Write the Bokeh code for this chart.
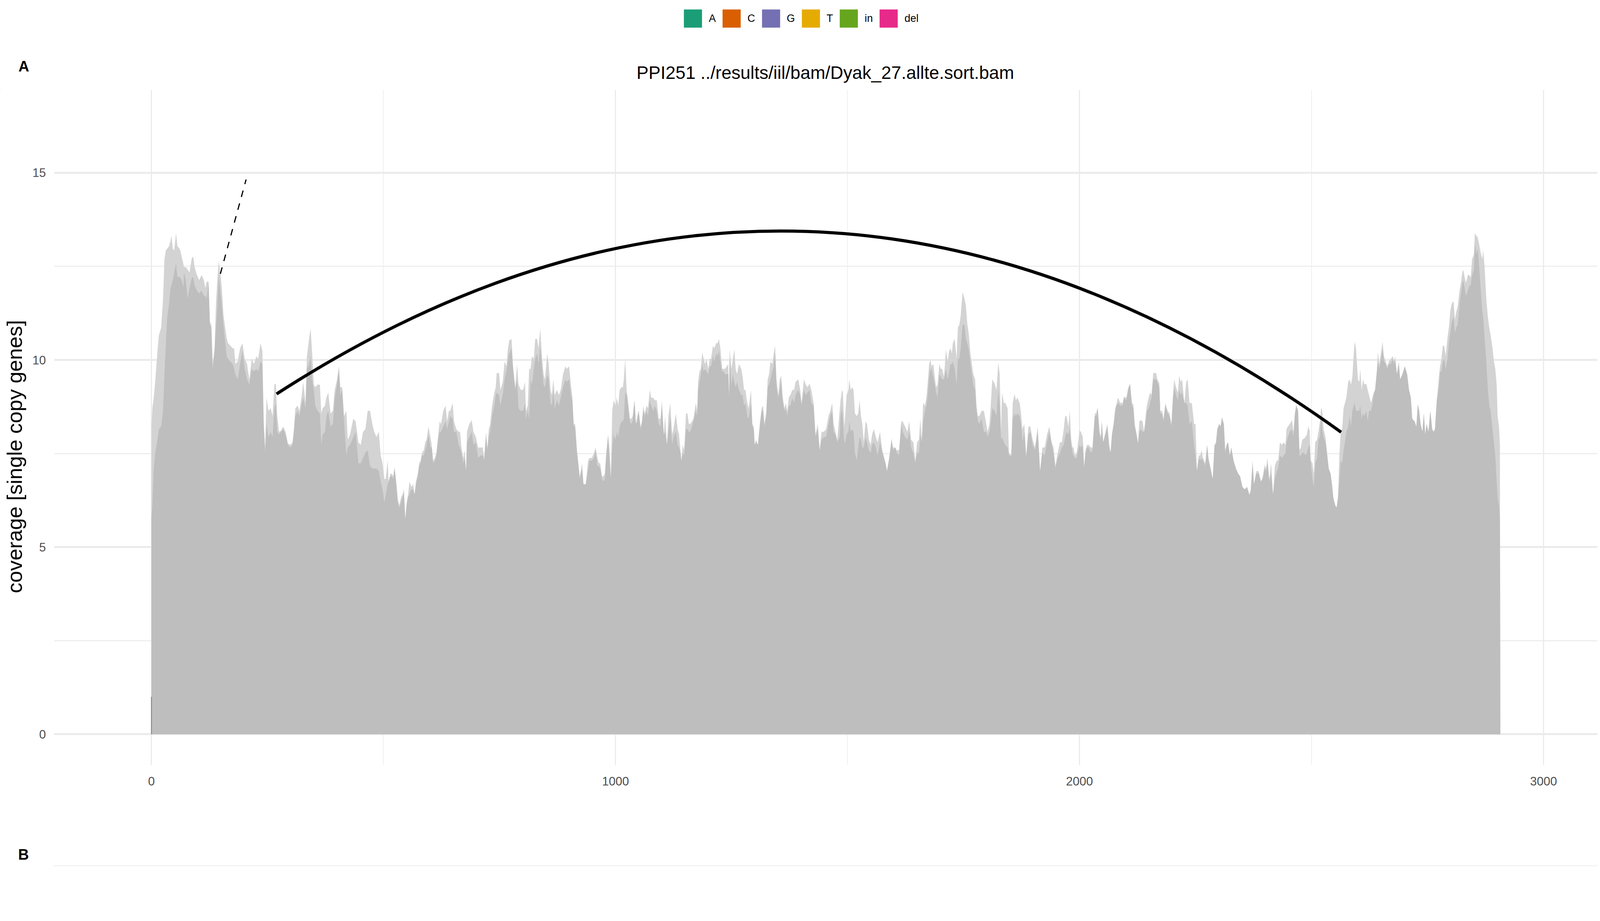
import math
from bokeh.plotting import figure
from bokeh.models import (Range1d, SingleIntervalTicker, Label, Legend, LegendItem,
                          ColumnDataSource, Span)
from bokeh.layouts import column, row
from bokeh.embed import file_html
from bokeh.resources import INLINE

FONT = "Liberation Sans"

#### Data

## position along the element (bp)
pos = [
    0, 2, 5, 8, 13, 16, 21, 25, 28, 31,
    34, 38, 41, 43, 46, 49, 53, 56, 59, 62,
    65, 69, 70, 74, 78, 82, 87, 90, 93, 98,
    103, 108, 113, 116, 119, 123, 126, 129, 132, 136,
    139, 142, 145, 149, 152, 155, 158, 162, 165, 170,
    175, 178, 181, 186, 191, 196, 201, 206, 211, 216,
    221, 226, 230, 235, 239, 242, 245, 248, 252, 257,
    261, 265, 268, 271, 275, 279, 284, 289, 294, 299,
    304, 307, 310, 315, 319, 324, 327, 332, 335, 340,
    343, 346, 350, 353, 358, 363, 366, 369, 374, 377,
    381, 386, 391, 395, 400, 404, 407, 411, 415, 420,
    423, 428, 435, 440, 446, 451, 456, 461, 466, 471,
    476, 480, 485, 490, 494,
    498, 502, 505, 509, 511, 515, 518, 521, 524, 528,
    531, 534, 538, 541, 544, 547, 550, 553, 556, 560,
    564, 567, 570, 574, 577, 580, 583, 587, 590, 593,
    597, 601, 604, 607, 611, 614, 618, 621, 624, 629,
    634, 637, 641, 644, 649, 652, 657, 662, 665, 668,
    672, 675, 678, 680, 685, 690, 694, 699, 704, 709,
    714, 717, 721, 724, 727, 730, 734, 739, 742, 744,
    749, 752, 757, 761, 765, 768, 771, 776, 779, 784,
    788, 791, 796, 801, 805, 807, 811, 814, 817, 820,
    824, 827, 831, 834, 838, 841, 845, 848, 853, 856,
    860, 863, 866, 869, 874, 878, 882, 887, 892, 895,
    900, 904, 907, 910, 913, 917, 920, 923, 928, 931,
    936, 941, 944, 949, 954, 957, 961, 964, 967, 971,
    974, 977, 980, 984, 987, 990,
    993, 996, 1000, 1003, 1006, 1009, 1013, 1016, 1018, 1021,
    1024, 1027, 1031, 1034, 1037, 1041, 1044, 1047, 1050, 1054,
    1057, 1060, 1063, 1067, 1070, 1074, 1077, 1081, 1085, 1089,
    1093, 1097, 1100, 1104, 1107, 1111, 1114, 1118, 1122, 1125,
    1130, 1134, 1137, 1140, 1142, 1145, 1148, 1152, 1155, 1158,
    1161, 1165, 1168, 1173, 1176, 1178, 1181, 1184, 1187, 1190,
    1193, 1196, 1200, 1203, 1206, 1210, 1213, 1217, 1220, 1223,
    1226, 1230, 1233, 1236, 1240, 1243, 1245, 1246, 1250, 1253,
    1256, 1259, 1262, 1266, 1271, 1274, 1277, 1280, 1284, 1287,
    1292, 1295, 1298, 1300, 1303, 1307, 1311, 1315, 1318, 1321,
    1325, 1328, 1331, 1334, 1338, 1341, 1344, 1347, 1351, 1354,
    1357, 1360, 1364, 1367, 1370, 1374, 1377, 1381, 1385, 1388,
    1394, 1398, 1401, 1406, 1410, 1414, 1418, 1422, 1427, 1431,
    1436, 1440, 1444, 1449, 1454, 1459, 1463, 1467, 1470, 1474,
    1478,
    1483, 1485, 1488, 1490, 1493, 1495, 1498, 1502, 1504, 1507,
    1510, 1513, 1516, 1520, 1523, 1526, 1529, 1532, 1535, 1539,
    1542, 1546, 1550, 1553, 1557, 1561, 1565, 1570, 1575, 1582,
    1585, 1590, 1595, 1598, 1603, 1606, 1611, 1616, 1619, 1624,
    1629, 1633, 1637, 1642, 1646, 1650, 1654, 1657, 1660, 1663,
    1667, 1670, 1673, 1676, 1679, 1681, 1685, 1688, 1691, 1694,
    1698, 1701, 1704, 1708, 1710, 1712, 1716, 1719, 1722, 1725,
    1727, 1731, 1735, 1738, 1741, 1744, 1748, 1752, 1755, 1758,
    1761, 1765, 1768, 1771, 1775, 1778, 1781, 1784, 1789, 1794,
    1799, 1802, 1806, 1809, 1812, 1817, 1821, 1825, 1828, 1831,
    1833, 1837, 1840, 1845, 1848, 1853, 1856, 1860, 1863, 1866,
    1871, 1874, 1877, 1881, 1885, 1890, 1894, 1899, 1904, 1910,
    1915, 1920, 1925, 1930, 1935, 1940, 1944, 1948, 1953, 1958,
    1962, 1966, 1969, 1972, 1976, 1979, 1982, 1985,
    1987, 1990, 1994, 1997, 2000, 2003, 2007, 2010, 2013, 2016,
    2020, 2024, 2028, 2033, 2036, 2039, 2043, 2046, 2048, 2051,
    2056, 2060, 2064, 2067, 2070, 2074, 2077, 2080, 2083, 2088,
    2093, 2096, 2101, 2105, 2109, 2113, 2116, 2119, 2123, 2126,
    2129, 2132, 2136, 2139, 2142, 2145, 2149, 2152, 2155, 2159,
    2162, 2165, 2168, 2172, 2174, 2178, 2181, 2185, 2190, 2194,
    2198, 2201, 2204, 2208, 2212, 2215, 2218, 2221, 2226, 2230,
    2233, 2237, 2242, 2247, 2250, 2253, 2257, 2260, 2263, 2266,
    2271, 2275, 2278, 2283, 2287, 2291, 2294, 2297, 2301, 2304,
    2307, 2311, 2314, 2317, 2320, 2324, 2327, 2332, 2337, 2342,
    2346, 2351, 2356, 2361, 2366, 2369, 2373, 2376, 2381, 2386,
    2391, 2395, 2399, 2402, 2405, 2409, 2413, 2417, 2421, 2425,
    2428, 2432, 2436, 2440, 2444, 2446, 2449, 2453, 2458, 2461,
    2464, 2467, 2471, 2474, 2477, 2480,
    2484, 2487, 2490, 2493, 2496, 2498, 2502, 2505, 2508, 2512,
    2515, 2518, 2521, 2523, 2526, 2530, 2533, 2537, 2541, 2544,
    2547, 2551, 2554, 2557, 2560, 2563, 2566, 2569, 2572, 2575,
    2579, 2582, 2585, 2588, 2591, 2593, 2596, 2600, 2603, 2605,
    2608, 2611, 2614, 2618, 2621, 2624, 2628, 2631, 2634, 2637,
    2641, 2643, 2646, 2650, 2653, 2656, 2660, 2663, 2667, 2671,
    2675, 2678, 2680, 2684, 2688, 2691, 2696, 2701, 2706, 2710,
    2714, 2717, 2722, 2726, 2729, 2732, 2735, 2739, 2742, 2745,
    2748, 2752, 2756, 2760, 2763, 2766, 2770, 2772, 2775, 2777,
    2780, 2783, 2786, 2789, 2793, 2796, 2799, 2802, 2806, 2809,
    2812, 2815, 2819, 2822, 2825, 2827, 2830, 2833, 2837, 2840,
    2843, 2846, 2850, 2852, 2855, 2858, 2861, 2864, 2868, 2870,
    2873, 2877, 2880, 2883, 2886, 2890, 2893, 2896, 2899, 2901,
    2904, 2906, 2907,
]

## coverage, all reads (light grey layer)
cov_all = [
    8.22, 8.71, 8.99, 9.41, 10.24, 10.66, 10.87, 11.64, 12.69, 12.93,
    12.97, 13.04, 13.18, 13.32, 12.97, 12.93, 13.39, 13.04, 13.00, 12.93,
    12.76, 12.55, 12.48, 12.48, 12.41, 12.34, 12.72, 12.76, 12.48, 12.27,
    12.13, 12.27, 12.13, 11.92, 12.09, 12.09, 11.01, 10.94, 9.89, 10.31,
    11.50, 12.13, 12.65, 12.27, 11.85, 11.22, 10.94, 10.59, 10.45, 10.38,
    10.31, 10.31, 9.89, 9.96, 10.31, 10.45, 10.03, 9.89, 9.48, 10.03,
    9.89, 10.10, 10.03, 10.45, 10.24, 8.36, 7.66, 8.99, 8.64, 8.71,
    8.50, 9.34, 9.37, 8.50, 8.08, 8.11, 8.22, 8.08, 7.77, 7.73,
    7.80, 8.15, 8.71, 8.78, 8.64, 9.06, 9.41, 8.85, 10.10, 10.59,
    10.84, 10.24, 9.34, 9.27, 9.34, 9.34, 8.57, 8.71, 8.78, 8.99,
    9.13, 8.57, 8.64, 9.20, 9.48, 9.83, 9.27, 9.27, 8.50, 8.64,
    7.87, 8.01, 8.43, 8.36, 7.80, 7.73, 8.08, 8.15, 8.64, 8.64,
    8.29, 8.08, 7.94, 8.08, 7.45,
    7.24, 6.82, 6.82, 7.31, 6.75, 6.96, 6.96, 6.89, 7.14, 6.68,
    6.26, 6.12, 6.33, 6.40, 6.54, 5.78, 6.19, 6.40, 6.75, 6.61,
    6.68, 6.40, 6.75, 6.96, 7.24, 7.31, 7.52, 7.59, 7.80, 7.87,
    8.22, 7.94, 7.73, 7.31, 7.38, 7.52, 8.01, 8.36, 8.29, 8.64,
    8.78, 8.36, 8.64, 8.64, 8.85, 8.36, 8.15, 8.08, 8.08, 7.66,
    7.38, 7.59, 7.03, 8.08, 8.29, 8.39, 8.08, 7.94, 7.66, 7.66,
    7.66, 7.38, 8.08, 7.66, 8.15, 8.29, 8.78, 9.13, 9.27, 9.65,
    9.65, 9.20, 9.41, 9.96, 9.83, 10.28, 10.52, 10.56, 9.89, 9.27,
    9.89, 9.34, 9.20, 9.20, 9.41, 8.64, 8.78, 9.76, 9.76, 10.10,
    10.03, 10.56, 10.56, 10.31, 10.84, 10.17, 9.62, 9.48, 10.17, 9.89,
    9.20, 9.06, 9.48, 9.06, 9.20, 9.06, 9.20, 9.62, 9.83, 9.76,
    9.83, 9.34, 9.02, 8.29, 8.29, 7.59, 7.24, 6.89, 7.24, 6.68,
    6.68, 7.31, 7.38, 7.38, 7.52, 7.66, 7.38, 7.24, 7.24, 6.89,
    6.89, 6.96, 7.52, 8.01, 7.66, 6.89,
    8.64, 8.92, 8.78, 8.99, 8.78, 9.20, 9.27, 9.27, 9.48, 10.03,
    9.20, 8.92, 8.43, 8.43, 8.50, 8.92, 8.29, 8.50, 8.64, 8.22,
    8.36, 8.78, 8.57, 8.78, 8.71, 9.20, 8.99, 8.99, 8.92, 8.92,
    8.43, 8.43, 8.92, 8.01, 8.50, 7.73, 8.50, 8.85, 8.01, 8.15,
    8.57, 8.15, 8.01, 7.59, 7.31, 7.73, 7.59, 8.57, 8.57, 8.29,
    8.29, 8.36, 8.43, 8.85, 8.64, 9.41, 9.69, 9.76, 10.21, 10.03,
    9.89, 10.03, 9.76, 10.03, 10.03, 10.38, 10.31, 10.45, 10.45, 10.56,
    10.31, 9.76, 9.76, 9.76, 9.83, 9.89, 9.06, 10.28, 9.76, 10.03,
    10.28, 9.76, 9.62, 9.89, 9.76, 9.55, 9.20, 9.20, 8.85, 8.71,
    9.20, 8.29, 8.22, 7.73, 7.87, 7.73, 8.29, 8.71, 8.78, 8.29,
    8.64, 9.48, 9.62, 9.96, 9.89, 10.17, 10.38, 9.48, 9.06, 9.48,
    9.58, 9.06, 8.71, 8.85, 8.64, 9.02, 9.06, 9.20, 9.20, 9.41,
    9.48, 9.20, 8.85, 9.48, 9.34, 9.27, 9.37, 9.20, 8.85, 8.01,
    8.29, 7.59, 8.08, 8.08, 8.15, 8.50, 8.64, 8.85, 8.29, 8.08,
    7.87,
    8.64, 8.92, 9.20, 9.13, 8.22, 8.50, 9.06, 9.20, 9.48, 9.20,
    9.27, 9.20, 8.57, 8.50, 8.57, 8.92, 8.50, 8.29, 7.80, 8.36,
    8.29, 7.87, 7.73, 8.01, 8.15, 7.94, 7.80, 8.08, 7.59, 7.24,
    7.03, 7.38, 7.90, 7.66, 7.66, 7.59, 7.59, 8.36, 8.36, 8.22,
    8.08, 8.36, 7.87, 7.80, 7.31, 7.80, 7.87, 8.43, 7.87, 8.85,
    8.78, 8.99, 9.41, 9.89, 10.00, 9.83, 9.89, 9.55, 9.27, 9.34,
    9.89, 9.76, 9.76, 9.55, 9.89, 10.28, 9.96, 10.24, 10.31, 10.17,
    10.45, 10.56, 10.03, 10.87, 10.94, 11.18, 11.81, 11.64, 11.46, 10.98,
    10.73, 10.17, 9.89, 9.62, 9.48, 8.78, 8.50, 8.50, 8.64, 8.64,
    8.29, 8.08, 8.29, 8.85, 9.48, 9.37, 9.20, 9.93, 9.62, 8.08,
    9.13, 8.85, 8.85, 8.71, 7.52, 7.45, 8.85, 9.09, 8.92, 8.99,
    8.85, 8.57, 8.15, 8.29, 7.45, 8.22, 8.22, 7.87, 7.66, 8.22,
    7.03, 7.66, 7.66, 8.01, 8.22, 7.80, 7.66, 7.17, 7.52, 7.80,
    7.80, 8.15, 8.50, 8.50, 8.22, 8.64, 7.87, 7.66,
    7.66, 7.45, 7.52, 7.80, 8.11, 8.08, 7.94, 7.17, 7.59, 7.73,
    7.73, 7.66, 7.66, 8.57, 8.57, 8.74, 8.08, 7.94, 8.36, 7.80,
    8.08, 8.29, 7.73, 7.52, 8.01, 8.36, 8.71, 8.85, 8.99, 8.85,
    8.85, 9.02, 8.99, 9.27, 9.37, 8.85, 8.81, 8.29, 8.01, 7.80,
    8.36, 8.39, 8.36, 8.08, 8.43, 8.78, 8.99, 9.13, 9.06, 9.65,
    9.65, 9.65, 9.48, 9.37, 8.64, 8.64, 8.43, 8.85, 8.64, 8.57,
    8.29, 8.99, 9.48, 9.27, 9.13, 9.58, 9.41, 9.48, 8.85, 9.41,
    9.48, 8.85, 8.85, 8.29, 8.29, 7.03, 7.45, 7.45, 7.59, 7.38,
    7.24, 7.73, 7.38, 7.10, 6.82, 7.73, 7.80, 8.15, 8.29, 8.22,
    8.46, 8.29, 7.59, 7.73, 7.80, 7.45, 7.66, 7.31, 7.10, 6.96,
    6.89, 6.61, 6.54, 6.61, 6.40, 6.54, 7.31, 6.68, 7.03, 7.03,
    6.75, 6.89, 7.20, 7.10, 7.38, 6.82, 7.24, 6.40, 7.17, 7.31,
    7.31, 7.80, 7.73, 7.80, 7.73, 8.15, 8.22, 8.29, 8.39, 8.08,
    8.57, 8.81, 8.64, 7.59, 7.66, 7.87,
    7.90, 7.94, 8.01, 8.22, 8.11, 7.31, 7.24, 6.96, 7.80, 7.87,
    8.08, 8.36, 8.74, 8.64, 8.15, 7.94, 7.59, 7.10, 6.96, 6.68,
    6.31, 6.12, 6.05, 6.31, 7.45, 8.08, 8.15, 8.71, 8.85, 8.99,
    9.41, 9.48, 9.34, 9.55, 10.17, 10.49, 10.28, 9.48, 9.41, 9.76,
    9.20, 9.48, 9.34, 9.37, 9.20, 9.06, 8.85, 8.99, 9.13, 9.20,
    9.76, 10.21, 9.89, 10.21, 10.49, 10.10, 9.96, 9.83, 9.96, 10.03,
    10.10, 9.96, 10.10, 9.62, 9.96, 9.48, 9.62, 9.83, 9.62, 9.20,
    8.99, 8.43, 8.36, 8.22, 8.81, 8.64, 8.29, 8.08, 8.57, 8.01,
    8.29, 8.08, 8.64, 8.15, 8.08, 8.15, 8.92, 9.20, 9.62, 9.83,
    10.03, 10.38, 10.38, 10.10, 10.59, 10.87, 11.29, 11.50, 11.57, 11.08,
    11.29, 11.43, 11.85, 12.06, 12.34, 12.41, 12.20, 12.06, 12.27, 12.27,
    12.20, 12.69, 12.83, 13.39, 13.32, 13.28, 13.11, 12.90, 12.69, 12.93,
    12.48, 11.57, 11.15, 10.87, 10.66, 10.31, 9.96, 9.76, 9.34, 8.50,
    8.22, 7.73, 0,
]

## coverage, single copy reads (darker grey layer)
cov_single = [
    5.78, 6.12, 7.10, 7.52, 7.87, 8.15, 8.22, 8.64, 9.62, 10.45,
    11.15, 11.50, 11.92, 11.99, 12.13, 12.34, 12.58, 12.20, 12.23, 12.20,
    12.13, 11.95, 12.34, 12.13, 11.64, 11.92, 12.20, 12.20, 11.99, 11.85,
    11.78, 11.85, 11.71, 11.71, 11.64, 12.06, 10.94, 10.87, 9.76, 10.24,
    10.87, 11.43, 12.27, 11.78, 11.43, 10.94, 10.59, 10.10, 10.03, 9.96,
    9.89, 9.76, 9.62, 9.48, 9.89, 10.24, 9.76, 9.48, 9.34, 9.76,
    9.69, 9.76, 9.69, 9.96, 9.89, 8.15, 7.52, 8.29, 7.94, 8.08,
    7.94, 8.71, 8.85, 8.08, 8.01, 8.08, 8.15, 8.01, 7.73, 7.66,
    7.73, 8.08, 8.50, 8.64, 8.50, 8.85, 8.99, 8.71, 9.76, 9.89,
    10.10, 9.48, 9.20, 8.78, 8.64, 8.57, 7.73, 8.01, 8.08, 8.50,
    8.64, 8.22, 8.29, 8.99, 9.34, 9.76, 9.06, 9.20, 8.36, 7.45,
    7.66, 7.73, 7.94, 8.08, 7.24, 7.24, 7.38, 7.52, 7.59, 7.17,
    7.10, 7.10, 7.10, 7.03, 6.75,
    6.54, 6.19, 6.40, 6.68, 6.75, 6.89, 6.89, 6.82, 7.10, 6.61,
    6.19, 6.05, 6.19, 6.33, 6.47, 5.71, 6.12, 6.33, 6.40, 6.54,
    6.54, 6.40, 6.68, 6.89, 7.17, 7.24, 7.45, 7.45, 7.59, 7.73,
    8.01, 7.66, 7.66, 7.24, 7.31, 7.45, 7.87, 8.08, 8.08, 8.22,
    8.36, 8.15, 8.36, 8.50, 8.43, 8.08, 8.08, 7.73, 7.66, 7.52,
    7.24, 7.38, 7.03, 7.80, 7.94, 8.08, 7.73, 7.80, 7.38, 7.45,
    7.45, 7.31, 7.94, 7.59, 7.94, 8.08, 8.50, 8.78, 9.06, 9.13,
    9.06, 8.78, 9.06, 9.48, 9.69, 9.96, 10.17, 10.31, 9.76, 9.20,
    9.48, 8.71, 8.64, 8.64, 8.85, 8.43, 8.64, 8.43, 9.48, 9.34,
    9.76, 10.03, 10.17, 9.89, 10.38, 9.89, 9.34, 9.27, 9.62, 9.48,
    8.85, 8.78, 9.20, 8.71, 8.92, 8.78, 8.99, 9.27, 9.48, 9.41,
    9.48, 9.06, 8.92, 8.22, 8.22, 7.52, 7.17, 6.82, 7.10, 6.68,
    6.68, 7.10, 7.31, 7.31, 7.38, 7.59, 7.17, 7.17, 7.10, 6.82,
    6.75, 6.82, 7.38, 7.94, 7.38, 6.82,
    7.66, 8.01, 7.87, 8.08, 7.94, 8.22, 8.36, 8.36, 8.43, 9.13,
    9.06, 8.78, 8.36, 8.29, 8.36, 8.92, 8.29, 8.36, 8.64, 8.15,
    8.29, 8.64, 8.50, 8.64, 8.50, 8.92, 8.78, 8.64, 8.78, 8.64,
    8.29, 8.22, 8.78, 8.01, 8.08, 7.73, 8.08, 8.50, 7.73, 7.94,
    8.08, 7.73, 7.66, 7.52, 7.31, 7.52, 7.45, 8.15, 8.15, 8.08,
    8.08, 8.22, 8.36, 8.64, 8.50, 9.20, 9.41, 9.62, 9.89, 9.69,
    9.76, 9.69, 9.62, 9.83, 9.83, 10.10, 9.96, 10.17, 10.10, 10.24,
    9.96, 9.69, 9.69, 9.62, 9.62, 9.62, 8.99, 10.03, 9.34, 9.62,
    9.41, 9.27, 9.41, 9.20, 9.06, 9.06, 8.78, 8.85, 8.50, 8.43,
    8.85, 8.22, 8.15, 7.73, 7.80, 7.73, 8.22, 8.64, 8.64, 8.22,
    8.50, 9.27, 9.34, 9.48, 9.69, 9.83, 10.17, 9.27, 8.99, 9.20,
    9.48, 8.92, 8.64, 8.71, 8.50, 8.78, 8.78, 8.99, 8.85, 9.06,
    9.20, 9.06, 8.78, 9.20, 9.06, 9.13, 9.20, 8.85, 8.78, 7.94,
    8.15, 7.59, 7.87, 7.94, 7.94, 8.29, 8.50, 8.64, 8.08, 8.01,
    7.80,
    7.94, 8.50, 8.71, 8.43, 7.80, 7.80, 8.01, 8.08, 8.36, 8.08,
    8.15, 8.08, 7.52, 7.31, 7.66, 7.94, 7.87, 7.66, 7.66, 7.94,
    7.80, 7.59, 7.52, 7.73, 7.80, 7.66, 7.45, 7.80, 7.52, 7.24,
    7.03, 7.38, 7.87, 7.59, 7.66, 7.52, 7.45, 8.29, 8.08, 7.94,
    7.87, 8.08, 7.66, 7.52, 7.24, 7.52, 7.52, 8.01, 7.80, 8.36,
    8.64, 8.78, 9.06, 9.55, 9.76, 9.76, 9.55, 9.34, 9.13, 8.99,
    9.62, 9.55, 9.48, 9.48, 9.62, 9.76, 9.48, 9.69, 9.89, 9.89,
    9.96, 9.76, 9.34, 10.03, 10.03, 10.31, 10.94, 10.94, 10.59, 10.45,
    10.31, 9.89, 9.62, 9.34, 9.20, 8.64, 8.36, 8.29, 8.43, 8.08,
    8.08, 7.94, 8.08, 8.36, 8.71, 8.64, 8.50, 9.20, 8.78, 7.87,
    7.94, 7.80, 7.73, 7.66, 7.45, 7.45, 8.43, 8.57, 8.50, 8.57,
    8.50, 8.29, 7.80, 8.08, 7.38, 8.01, 8.08, 7.73, 7.59, 8.08,
    7.03, 7.52, 7.45, 7.80, 8.08, 7.73, 7.52, 7.10, 7.38, 7.52,
    7.66, 7.73, 7.94, 8.08, 8.01, 8.15, 7.73, 7.52,
    7.45, 7.38, 7.38, 7.59, 7.73, 7.66, 7.73, 7.10, 7.52, 7.66,
    7.66, 7.52, 7.59, 8.50, 8.50, 8.71, 8.08, 7.87, 8.36, 7.80,
    8.01, 8.22, 7.66, 7.52, 8.01, 8.29, 8.64, 8.78, 8.85, 8.78,
    8.78, 8.99, 8.92, 9.20, 9.34, 8.78, 8.71, 8.22, 8.01, 7.73,
    8.08, 8.15, 8.08, 8.08, 8.29, 8.64, 8.71, 8.85, 8.99, 9.48,
    9.48, 9.48, 9.41, 9.27, 8.57, 8.57, 8.36, 8.78, 8.57, 8.50,
    8.22, 8.85, 9.27, 9.06, 8.92, 9.20, 9.06, 9.13, 8.85, 8.85,
    8.78, 8.29, 8.36, 7.73, 7.45, 7.03, 7.38, 7.31, 7.38, 7.31,
    7.17, 7.73, 7.31, 7.03, 6.82, 7.73, 7.73, 8.15, 8.29, 8.22,
    8.46, 8.29, 7.52, 7.73, 7.80, 7.45, 7.66, 7.31, 7.10, 6.96,
    6.89, 6.61, 6.54, 6.61, 6.40, 6.47, 7.24, 6.68, 6.96, 6.96,
    6.75, 6.82, 7.10, 7.03, 7.24, 6.75, 6.96, 6.40, 6.82, 7.03,
    7.10, 7.45, 7.38, 7.45, 7.52, 7.80, 7.94, 8.08, 8.15, 7.94,
    8.50, 8.78, 8.64, 7.45, 7.45, 7.52,
    7.52, 7.45, 7.52, 7.66, 7.73, 7.31, 6.82, 6.61, 7.24, 7.38,
    7.87, 7.94, 8.50, 8.15, 7.94, 7.80, 7.52, 7.10, 6.96, 6.68,
    6.31, 6.12, 6.05, 6.31, 6.75, 7.31, 7.24, 7.59, 7.80, 8.08,
    8.22, 8.50, 8.22, 8.64, 8.78, 8.85, 8.64, 8.64, 8.64, 8.78,
    8.43, 8.57, 8.50, 8.64, 8.36, 8.64, 8.64, 8.78, 9.06, 9.20,
    9.69, 9.96, 9.76, 10.03, 10.31, 9.96, 9.89, 9.76, 9.89, 9.89,
    10.03, 9.89, 10.03, 9.62, 9.89, 9.48, 9.62, 9.83, 9.62, 9.20,
    8.99, 8.43, 8.36, 8.22, 8.81, 8.64, 8.29, 8.08, 8.57, 8.01,
    8.29, 8.08, 8.64, 8.15, 8.08, 8.15, 8.92, 9.06, 9.34, 9.69,
    9.69, 9.96, 10.03, 9.76, 10.03, 10.45, 10.73, 11.01, 11.15, 10.73,
    10.87, 10.94, 11.50, 11.78, 12.06, 12.13, 11.92, 11.71, 11.85, 11.99,
    11.99, 12.27, 12.41, 13.11, 12.83, 12.97, 12.55, 11.99, 11.29, 11.15,
    10.59, 9.89, 9.20, 8.78, 8.64, 8.15, 7.80, 7.45, 6.75, 6.33,
    6.12, 5.71, 0,
]

## thin mark at the element start
start_mark_x = 0
start_mark_top = 1.0

## curved link between the two breakpoints (quadratic bezier) and dashed pointer
arc_x0, arc_y0 = 269.6, 9.09
arc_x1, arc_y1 = 2563.7, 8.07
arc_cx, arc_cy = 1416.6, 18.28
dash_x0, dash_y0 = 148.5, 12.30
dash_x1, dash_y1 = 204.0, 14.82

## legend of panel B
bases = ["A", "C", "G", "T", "in", "del"]
base_colors = ["#1B9E77", "#D95F02", "#7570B3", "#E6AB02", "#66A61E", "#E7298A"]

title_text = "PPI251 ../results/iil/bam/Dyak_27.allte.sort.bam"
y_title = "coverage [single copy genes]"


#### Layout: the page stretches to the window width, heights are fixed px
HEAD_H = 230             # legend, title and tag A above panel A
MAIN_H = 1900            # panel A incl. x axis
FOOT_H = 210             # panel B (empty)
FRAME_H = 1728
STRIP_W = 80             # strip holding the y axis title
FRAME_L = 135            # left edge of the panel frame
RIGHT_PAD = 7


def blank(height, width=None, **kw):
    size = dict(width=width) if width else dict(sizing_mode="stretch_width")
    f = figure(height=height, x_range=Range1d(0, 1), y_range=Range1d(0, height),
               x_axis_location=None, y_axis_location=None, output_backend="svg",
               toolbar_location=None, min_border=0, **size, **kw)
    f.outline_line_color = None
    f.xgrid.visible = False
    f.ygrid.visible = False
    return f


#### Header: legend, title, tag A
head = blank(HEAD_H)
items = []
for b, c in zip(bases, base_colors):
    # one bar outside the visible range, only its legend key is seen
    r = head.vbar(x=[-5], top=[1], width=1, fill_color=c, line_color=None)
    items.append(LegendItem(label=b, renderers=[r]))
legend = Legend(items=items, orientation="horizontal", location="top_center",
                glyph_width=58, glyph_height=58, label_standoff=12, spacing=11, label_width=0,
                padding=0, margin=18, border_line_color=None, background_fill_alpha=0,
                label_text_font=FONT, label_text_font_size="27px", label_text_color="black")
head.add_layout(legend)
head.add_layout(Label(x=0.5157, y=HEAD_H - 185, x_units="data", y_units="screen",
                      text=title_text, text_font=FONT, text_font_size="46px",
                      text_color="black", text_align="center", text_baseline="alphabetic"))
head.add_layout(Label(x=0.0114, y=HEAD_H - 169.5, x_units="data", y_units="screen", text="A",
                      text_font=FONT, text_font_size="38px", text_font_style="bold",
                      text_color="black", text_baseline="alphabetic"))

#### y axis title strip (its frame is aligned with the panel frame by the row)
strip = blank(MAIN_H, width=STRIP_W)
strip.add_layout(Label(x=36, y=FRAME_H - (1168.6 - HEAD_H), x_units="screen", y_units="screen",
                       text=y_title, angle=math.pi / 2, text_font=FONT, text_font_size="54px",
                       text_color="black", text_align="center", text_baseline="middle"))

#### Panel A
p = figure(height=MAIN_H, sizing_mode="stretch_width",
           x_range=Range1d(-209.8, 3116.2), y_range=Range1d(-0.82, 17.21),
           output_backend="svg", toolbar_location=None,
           min_border_left=FRAME_L - STRIP_W, min_border_right=RIGHT_PAD,
           min_border_top=0, min_border_bottom=MAIN_H - FRAME_H)
p.outline_line_color = None

p.xaxis.ticker = SingleIntervalTicker(interval=1000, num_minor_ticks=2)
p.yaxis.ticker = SingleIntervalTicker(interval=5, num_minor_ticks=2)
p.xgrid.grid_line_width = 3
p.xgrid.minor_grid_line_width = 1.5
p.ygrid.grid_line_width = 5
p.ygrid.minor_grid_line_width = 2.5
for g in (p.xgrid, p.ygrid):
    g.grid_line_color = "#ebebeb"
    g.minor_grid_line_color = "#ebebeb"

p.axis.axis_line_color = None
p.axis.major_tick_line_color = None
p.axis.minor_tick_line_color = None
p.axis.major_tick_out = 0
p.axis.major_tick_in = 0
p.axis.major_label_text_font = FONT
p.axis.major_label_text_font_size = "31px"
p.axis.major_label_text_color = "#4d4d4d"
p.xaxis.major_label_standoff = 26
p.yaxis.major_label_standoff = 17

src = ColumnDataSource(dict(pos=pos, all=cov_all, single=cov_single))
p.varea(x="pos", y1=0, y2="all", source=src, fill_color="#d3d3d3")
p.varea(x="pos", y1=0, y2="single", source=src, fill_color="#bebebe")

p.segment(x0=[start_mark_x], y0=[0], x1=[start_mark_x], y1=[start_mark_top],
          line_color="#7f7f7f", line_width=2)

p.quadratic(x0=[arc_x0], y0=[arc_y0], x1=[arc_x1], y1=[arc_y1],
            cx=[arc_cx], cy=[arc_cy], line_color="black", line_width=8)
p.segment(x0=[dash_x0], y0=[dash_y0], x1=[dash_x1], y1=[dash_y1],
          line_color="black", line_width=3, line_dash="17 17")

#### Panel B (empty): tag and the faint top line
foot_l = blank(FOOT_H, width=FRAME_L)
foot_l.add_layout(Label(x=46, y=FOOT_H - 57, x_units="screen", y_units="screen", text="B",
                        text_font=FONT, text_font_size="38px", text_font_style="bold",
                        text_color="black", text_baseline="alphabetic"))
foot_r = blank(FOOT_H, min_border_right=RIGHT_PAD)
foot_r.add_layout(Span(location=FOOT_H - 86, dimension="width", line_color="#f0f0f0", line_width=2))

page = column(head,
              row(strip, p, sizing_mode="stretch_width"),
              row(foot_l, foot_r, sizing_mode="stretch_width"),
              sizing_mode="stretch_width")
open("out.html", "w").write(file_html(page, INLINE))
